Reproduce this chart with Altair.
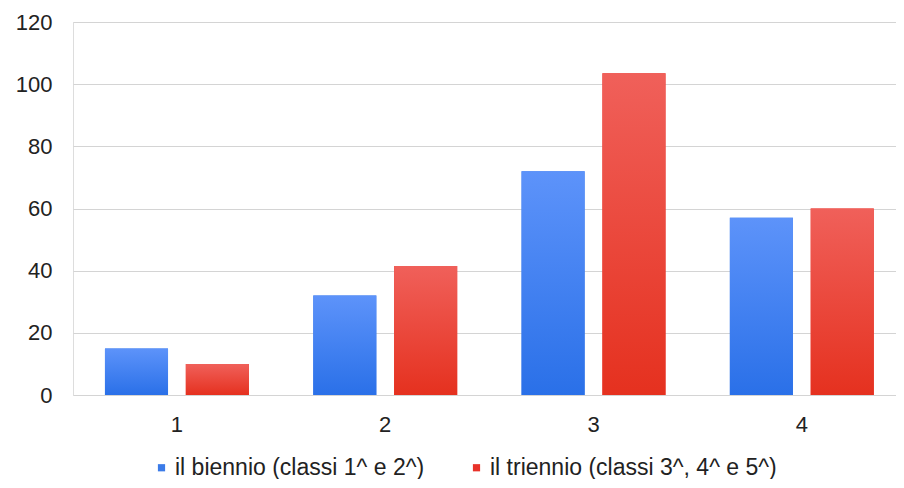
import altair as alt
import pandas as pd

categories = ["1", "2", "3", "4"]
series = ["il biennio (classi 1^ e 2^)", "il triennio (classi 3^, 4^ e 5^)"]
biennio = [15, 32, 72, 57]
triennio = [10, 41.5, 103.5, 60]

rows = []
for c, b, t in zip(categories, biennio, triennio):
    rows.append({"cat": c, "serie": series[0], "val": b})
    rows.append({"cat": c, "serie": series[1], "val": t})
df = pd.DataFrame(rows)

FONT = "Liberation Sans"
blue_grad = alt.Gradient(gradient="linear", x1=0, y1=0, x2=0, y2=1,
                         stops=[alt.GradientStop(offset=0, color="#5d93fa"),
                                alt.GradientStop(offset=1, color="#2a70e8")])
red_grad = alt.Gradient(gradient="linear", x1=0, y1=0, x2=0, y2=1,
                        stops=[alt.GradientStop(offset=0, color="#f0605a"),
                               alt.GradientStop(offset=1, color="#e5311f")])

x = alt.X("cat:N", sort=categories, title=None,
          scale=alt.Scale(paddingInner=0.309, paddingOuter=0.13, align=0.59),
          axis=alt.Axis(labelAngle=0, ticks=False, domain=False, grid=False,
                        labelPadding=19, labelFontSize=22, labelColor="#222",
                        labelFont=FONT))
y = alt.Y("val:Q", title=None,
          scale=alt.Scale(domain=[0, 120]),
          axis=alt.Axis(values=[0, 20, 40, 60, 80, 100, 120], ticks=False, domain=False,
                        gridColor="#d4d4d4", gridWidth=1.2, labelPadding=21,
                        labelFontSize=22, labelColor="#222", labelFont=FONT))
xo = alt.XOffset("serie:N", sort=series, scale=alt.Scale(paddingInner=0.22))

base = alt.Chart(df).mark_bar().encode(
    x=x, y=y, xOffset=xo,
    color=alt.Color("serie:N", sort=series,
                    scale=alt.Scale(domain=series, range=["#3b7be8", "#e8322a"]),
                    legend=alt.Legend(title=None, orient="none", direction="horizontal",
                                      legendX=77, legendY=434, symbolType="square",
                                      symbolSize=52, symbolStrokeWidth=0,
                                      labelFontSize=23, labelFont=FONT, labelColor="#222",
                                      labelOffset=2, columnPadding=40, labelLimit=500)),
)

grad = alt.Chart(df).mark_bar().encode(
    x=x, y=y, xOffset=xo,
    fill=alt.condition(alt.datum.serie == series[0], alt.value(blue_grad), alt.value(red_grad)),
)

chart = alt.layer(base, grad).properties(
    width=823, height=373,
    autosize=alt.AutoSizeParams(type="none"),
    padding={"left": 65, "top": 14, "right": 0, "bottom": 84},
).configure_view(stroke=None).configure(background="white")

chart.save("out.html", embed_options={"renderer": "svg", "actions": False})
